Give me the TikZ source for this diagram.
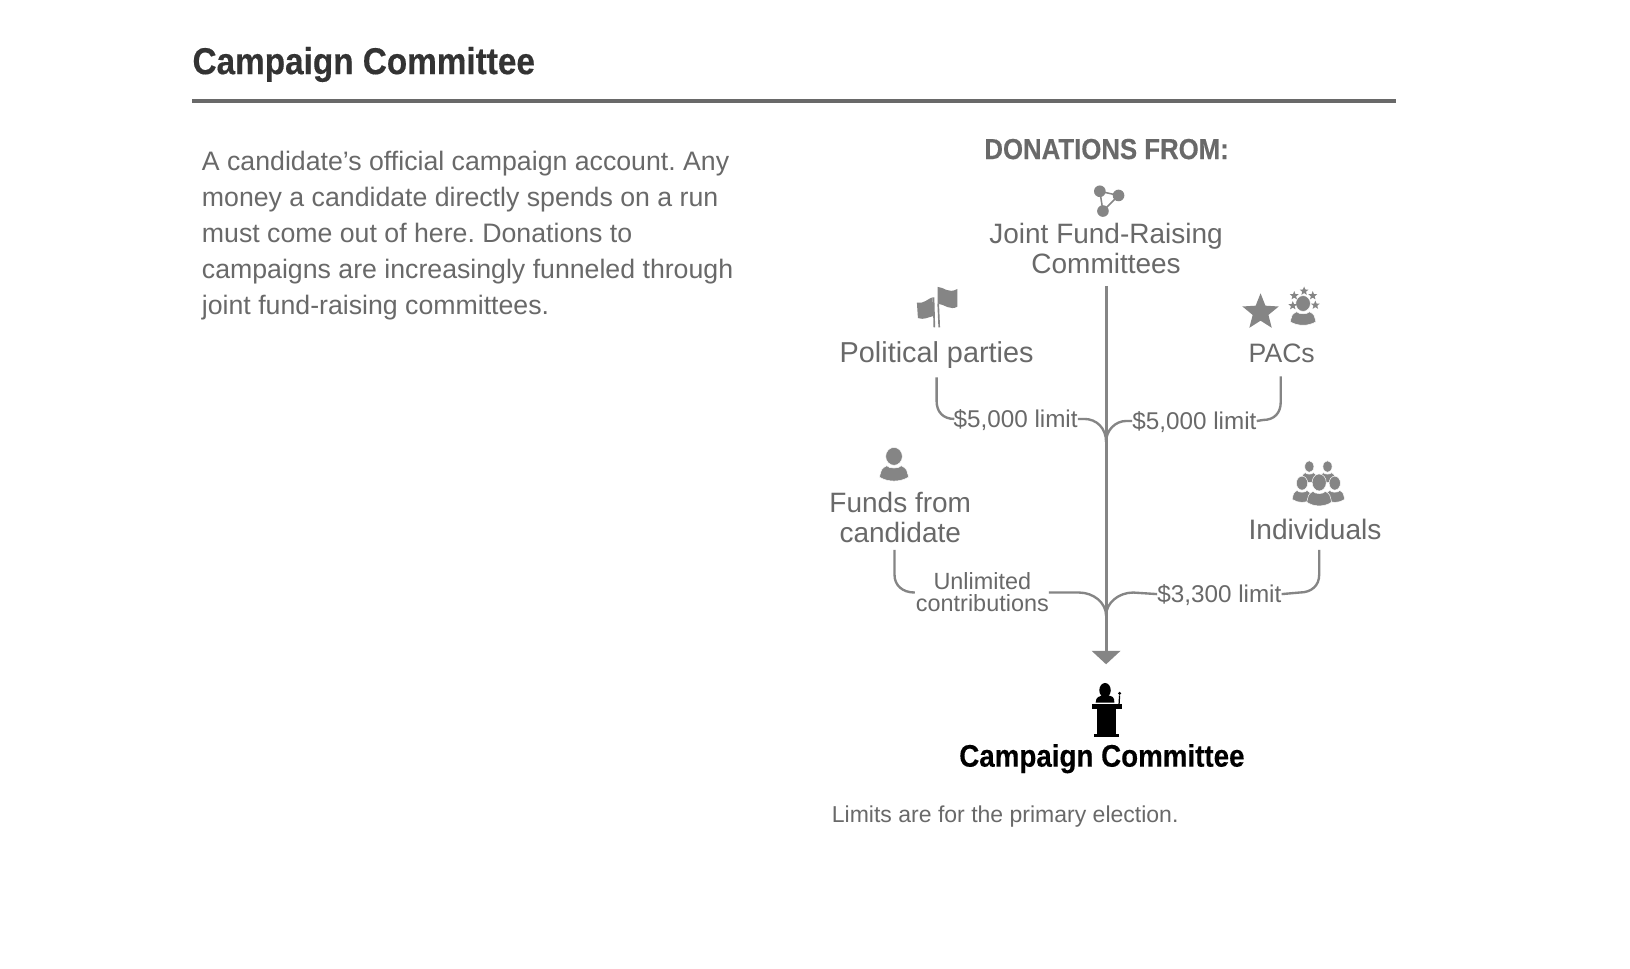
\documentclass[tikz,border=0pt]{standalone}
\usepackage{fontspec}
\usetikzlibrary{shapes.geometric}
\setmainfont{Liberation Sans}
\newfontfamily\heavy{Liberation Sans}[UprightFont=* Bold,FakeStretch=0.89,FakeBold=0.35]
\frenchspacing
\definecolor{txt}{HTML}{696969}
\definecolor{ico}{HTML}{858585}
\definecolor{ttl}{HTML}{333333}
\tikzset{
  x=0.75pt,y=-0.75pt,
  lab/.style={inner sep=0pt,anchor=base,align=center,text=txt,font=\fontsize{20.2}{21.75}\selectfont},
  lim/.style={inner sep=0pt,anchor=base,text=txt,font=\fontsize{17.5}{15.75}\selectfont,text height=12pt,text depth=0pt},
  limtwo/.style={inner sep=0pt,anchor=center,align=center,text=txt,font=\fontsize{16.9}{15.75}\selectfont},
  conn/.style={draw=ico,line width=1.7pt,line cap=butt},
  gstar/.style={star,star points=5,star point ratio=2.3,fill=ico,inner sep=0pt,draw=none},
  personicon/.pic={
    \path[fill=ico,draw=white,line width=.35pt] (-7,1) .. controls (-5,4) and (5,4) .. (7,1) .. controls (9,3) and (12,3) .. (12,5)
       .. controls (13,8) and (14,11) .. (14,12) .. controls (6,17) and (-6,17) .. (-14,12)
       .. controls (-14,11) and (-13,8) .. (-12,5) .. controls (-12,3) and (-9,3) .. (-7,1) -- cycle;
    \path[fill=ico,draw=white,line width=.35pt] (0,-8) ellipse (8 and 8.6);
  }
}
\begin{document}
\begin{tikzpicture}
\useasboundingbox (0,0) rectangle (1568,931.2);
\fill[white] (0,0) rectangle (1568,931.2);
% header
\node[inner sep=0pt,anchor=base west,text=ttl,font=\heavy\fontsize{27}{30}\selectfont] (title) at (185,71.3) {Campaign Committee};
\coordinate (ruleL) at (185,97);
\coordinate (ruleR) at (1343,97);
\draw[draw=txt,line width=3pt] (ruleL) -- (ruleR);
\node[inner sep=0pt,anchor=north west,text=txt,align=left,font=\fontsize{19.26}{25.95}\selectfont] (body) at (194,144.8)
 {A candidate’s official campaign account. Any\\money a candidate directly spends on a run\\must come out of here. Donations to\\campaigns are increasingly funneled through\\joint fund-raising committees.};
% labels
\node[inner sep=0pt,anchor=base,text=txt,font=\heavy\fontsize{20.9}{24}\selectfont] (don) at (1064.5,153) {DONATIONS FROM:};
\node[lab] (joint) at (1064,263) {Joint Fund-Raising\\Committees};
\node[lab,font=\fontsize{20.8}{21.75}\selectfont] (parties) at (901,349) {Political parties};
\node[lab,font=\fontsize{19.2}{21.75}\selectfont] (pacs) at (1233,349) {PACs};
\node[lab] (funds) at (866,522) {Funds from\\candidate};
\node[lab,font=\fontsize{20.3}{21.75}\selectfont] (indiv) at (1265,519) {Individuals};
\node[lim] (limA) at (977,411) {\$5,000 limit};
\node[lim] (limB) at (1149,413) {\$5,000 limit};
\node[lim] (limD) at (1173,579.5) {\$3,300 limit};
\node[limtwo] (limC) at (945,569.5) {Unlimited\\contributions};
\node[inner sep=0pt,anchor=base,text=black,font=\heavy\fontsize{22.5}{26}\selectfont] (camp) at (1060,737.5) {Campaign Committee};
\node[inner sep=0pt,anchor=base west,text=txt,font=\fontsize{16.6}{20}\selectfont] (note) at (800,791) {Limits are for the primary election.};
% connectors
\coordinate (tipTop) at (1064,275);
\coordinate (arrowL) at (1050,626);
\coordinate (arrowR) at (1078,626);
\coordinate (arrowT) at (1064,639);
\draw[conn,line width=2.2pt] (tipTop) -- (1064,628);
\fill[ico] (arrowL) -- (arrowR) -- (arrowT) -- cycle;
\coordinate (mergeA) at (1064,425);
\coordinate (mergeB) at (1064,592);
\draw[conn,shorten <=6pt] (parties.south) -- (901,386) .. controls (901,396) and (907,403) .. (918,403);
\draw[conn] (limA.east) -- (1043,403) .. controls (1055,403) and (1064,412) .. (mergeA);
\draw[conn] (mergeA) .. controls (1064,414) and (1073,405) .. (1083,405) -- (limB.west);
\draw[conn] (limB.east) -- (1215,404) .. controls (1226,404) and (1232,397) .. (1232,387) -- (1232,362);
\draw[conn] (860.5,529) -- (860.5,553) .. controls (860.5,563) and (868,570) .. (880,570);
\draw[conn] (1009,570) -- (1038,570) .. controls (1052,570) and (1064,580) .. (mergeB);
\draw[conn] (mergeB) .. controls (1064,580) and (1076,570) .. (1090,570) -- (limD.west);
\draw[conn] (limD.east) -- (1250,570) .. controls (1262,570) and (1269,563) .. (1269,553) -- (1269,529);
% network icon
\coordinate (n1) at (1058,184);
\coordinate (n2) at (1076,188);
\coordinate (n3) at (1061,203);
\draw[draw=ico,line width=1.1pt] (n1) -- (n2) -- (n3) -- cycle;
\foreach \c in {n1,n2,n3} \fill[ico] (\c) circle (5.6);
% flags icon
\fill[ico] (882,291) .. controls (888,293) and (893,287) .. (897,286) -- (898,304) .. controls (893,305) and (889,308) .. (883,306) -- cycle;
\fill[ico] (902,276) .. controls (908,276) and (912,283) .. (921,278) -- (921,295) .. controls (914,299) and (909,293) .. (902,292) -- cycle;
\draw[ico,line width=1.2pt] (902.5,292) -- (903.5,315);
\draw[ico,line width=1.2pt] (898,286) -- (898.8,315);
% star & PAC icon
\node[gstar,minimum size=27.5] at (1212.6,300.5) {};
\pic[scale=.88] at (1253.5,299) {personicon};
\foreach \p in {(1254.5,280),(1245,284.4),(1262.8,284.4),(1243.6,294),(1265.3,293.5)}
  \node[gstar,minimum size=6.6] at \p {};
% candidate icon
\pic at (860,447) {personicon};
% individuals icon
\pic[xscale=.55,yscale=.65] at (1259.5,454) {personicon};
\pic[xscale=.55,yscale=.65] at (1277,454) {personicon};
\pic[xscale=.68,yscale=.78] at (1252.5,471) {personicon};
\pic[xscale=.68,yscale=.78] at (1284,471) {personicon};
\pic[xscale=.85,yscale=.95] at (1269,471.7) {personicon};
% podium icon
\fill[black] (1063,664) ellipse (5.5 and 7);
\fill[black] (1054,676) .. controls (1054,670) and (1058,670) .. (1060,669) -- (1066,669) .. controls (1070,670) and (1072,670) .. (1072,676) -- cycle;
\fill[black] (1050,677) rectangle (1079,682.5);
\fill[black] (1055.5,682.5) rectangle (1073.5,706.5);
\fill[black] (1052,706.5) rectangle (1076.5,709);
\draw[black,line width=.9pt] (1076.5,677) -- (1077,669);
\fill[black] (1077,667) circle (1.6);
\end{tikzpicture}
\end{document}
